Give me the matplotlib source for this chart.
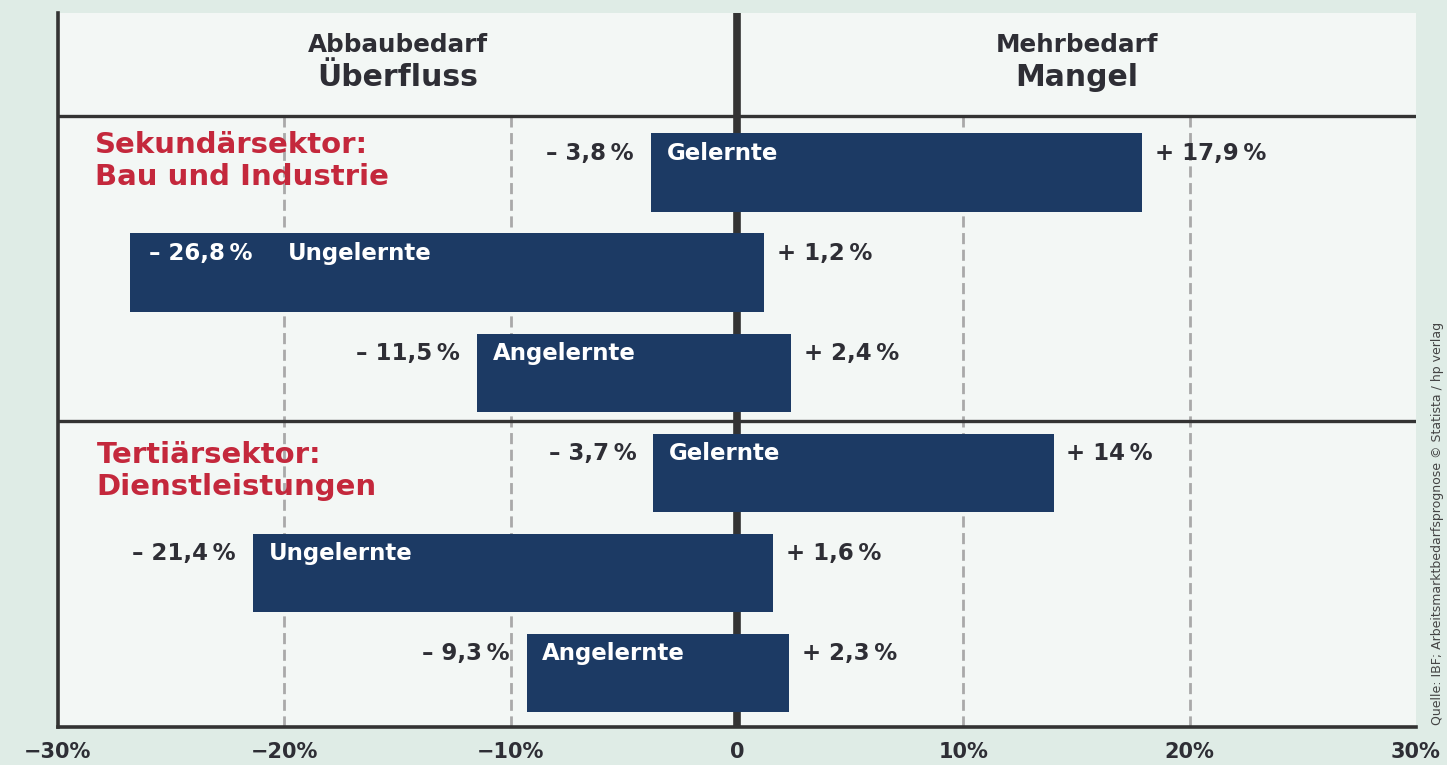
import matplotlib
matplotlib.use("Agg")
import matplotlib.pyplot as plt

# ---- data ----
categories = ["Gelernte", "Ungelernte", "Angelernte", "Gelernte", "Ungelernte", "Angelernte"]
sectors = ["Sekundärsektor:\nBau und Industrie", "Tertiärsektor:\nDienstleistungen"]
abbau = [-3.8, -26.8, -11.5, -3.7, -21.4, -9.3]   # Abbaubedarf / Überfluss
mehr = [17.9, 1.2, 2.4, 14.0, 1.6, 2.3]           # Mehrbedarf / Mangel
xticks = [-30, -20, -10, 0, 10, 20, 30]
xticklabels = ["−30%", "−20%", "−10%", "0", "10%", "20%", "30%"]
header_left = ["Abbaubedarf", "Überfluss"]
header_right = ["Mehrbedarf", "Mangel"]
source = "Quelle: IBF; Arbeitsmarktbedarfsprognose © Statista / hp verlag"

# ---- style ----
BG = "#dfece6"
PANEL = "#f3f7f5"
BAR = "#1c3a64"
DARK = "#2e2e35"
RED = "#c4283c"
GRID = "#a9a9a9"

plt.rcParams["font.family"] = ["DejaVu Sans"]

W, H = 1447, 765
fig = plt.figure(figsize=(W / 100, H / 100), dpi=100, facecolor=BG)
ax = fig.add_axes([58 / W, 38 / H, (1416 - 58) / W, (727 - 13) / H])
ax.set_facecolor(PANEL)

n = len(categories)
ys = [n - 1 - i for i in range(n)]
ax.set_xlim(-30, 30)
ax.set_ylim(-0.545, 6.595)

header_y = 5.565
sep_y = 2.515

# grid lines (below header)
for g in [-20, -10, 10, 20]:
    ax.plot([g, g], [-0.545, header_y], color=GRID, lw=2.0, ls=(0, (4, 2)), zorder=1)
# center line
ax.axvline(0, color="#333333", lw=5.5, zorder=1.5)
# horizontal separators
ax.axhline(header_y, color="#333333", lw=2.4, zorder=2)
ax.axhline(sep_y, color="#333333", lw=2.4, zorder=2)

# bars
widths = [m - a for a, m in zip(abbau, mehr)]
ax.barh(ys, widths, left=abbau, height=0.78, color=BAR, zorder=3)

def fmt(v, sign):
    s = f"{abs(v):.1f}".replace(".", ",")
    if s.endswith(",0"):
        s = s[:-2]
    return f"{sign} {s}\u2009%"

fs = 16.5
for y, cat, a, m in zip(ys, categories, abbau, mehr):
    ty = y + 0.19
    if a < -25:
        ax.text(a + 0.8, ty, fmt(a, "–"), color="white", fontsize=fs, fontweight="bold",
                ha="left", va="center", zorder=4)
        ax.text(a + 6.95, ty, cat, color="white", fontsize=fs, fontweight="bold",
                ha="left", va="center", zorder=4)
    else:
        ax.text(a - 0.75, ty, fmt(a, "–"), color=DARK, fontsize=fs, fontweight="bold",
                ha="right", va="center", zorder=4)
        ax.text(a + 0.7, ty, cat, color="white", fontsize=fs, fontweight="bold",
                ha="left", va="center", zorder=4)
    ax.text(m + 0.55, ty, fmt(m, "+"), color=DARK, fontsize=fs, fontweight="bold",
            ha="left", va="center", zorder=4)

# sector titles
ax.text(-28.35, 5.415, sectors[0], color=RED, fontsize=21, fontweight="bold",
        ha="left", va="top", linespacing=1.2, zorder=4)
ax.text(-28.3, 2.315, sectors[1], color=RED, fontsize=21, fontweight="bold",
        ha="left", va="top", linespacing=1.2, zorder=4)

# headers
ax.text(-15, 6.275, header_left[0], color=DARK, fontsize=17.7, fontweight="bold",
        ha="center", va="center")
ax.text(-15, 5.955, header_left[1], color=DARK, fontsize=21.5, fontweight="bold",
        ha="center", va="center")
ax.text(15, 6.275, header_right[0], color=DARK, fontsize=17.7, fontweight="bold",
        ha="center", va="center")
ax.text(15, 5.955, header_right[1], color=DARK, fontsize=21.5, fontweight="bold",
        ha="center", va="center")

# axes
ax.set_xticks(xticks)
ax.set_xticklabels(xticklabels, fontsize=15, fontweight="bold", color=DARK)
ax.tick_params(axis="x", length=0, pad=11)
ax.set_yticks([])
for s in ["top", "right"]:
    ax.spines[s].set_visible(False)
for s in ["left", "bottom"]:
    ax.spines[s].set_color("#333333")
    ax.spines[s].set_linewidth(2.6)

# source
fig.text(1437 / W, 1 - 725 / H, source, rotation=90, fontsize=9, color="#444444",
         ha="center", va="bottom")

fig.savefig("out.png", dpi=100, facecolor=BG)
